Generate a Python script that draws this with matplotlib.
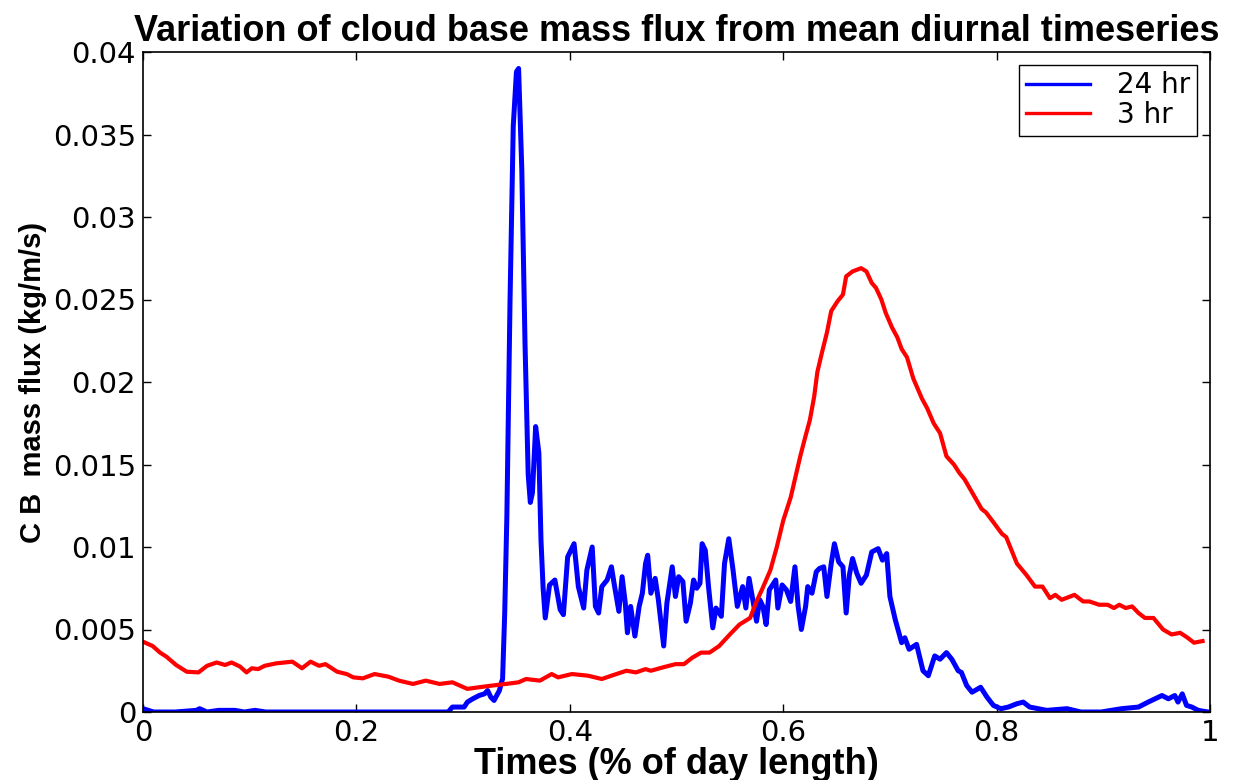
import matplotlib
matplotlib.use("Agg")
import matplotlib.pyplot as plt

# ---- data -------------------------------------------------------------
blue_x = [0.000, 0.005, 0.010, 0.030, 0.050, 0.053, 0.060, 0.071, 0.080, 0.086, 0.095, 0.105, 0.115,
          0.286, 0.290, 0.301, 0.304, 0.309, 0.315, 0.320, 0.323, 0.326, 0.329, 0.334, 0.336,
          0.337, 0.339, 0.341, 0.344, 0.347, 0.350, 0.352, 0.355, 0.358, 0.361, 0.363, 0.365,
          0.368, 0.371, 0.373, 0.375, 0.377, 0.381, 0.386, 0.391, 0.394, 0.398, 0.401, 0.404,
          0.408, 0.413, 0.416, 0.421, 0.424, 0.427, 0.430, 0.435, 0.439, 0.442, 0.446, 0.449,
          0.452, 0.454, 0.457, 0.461, 0.465, 0.468, 0.471, 0.473, 0.476, 0.480, 0.483, 0.488,
          0.491, 0.496, 0.499, 0.502, 0.506, 0.509, 0.513, 0.516, 0.519, 0.522, 0.524, 0.527,
          0.530, 0.534, 0.537, 0.542, 0.545, 0.549, 0.553, 0.557, 0.562, 0.565, 0.568, 0.572,
          0.575, 0.578, 0.581, 0.584, 0.587, 0.593, 0.595, 0.599, 0.603, 0.607, 0.611, 0.614,
          0.617, 0.621, 0.623, 0.627, 0.631, 0.634, 0.638, 0.641, 0.645, 0.648, 0.652, 0.656,
          0.659, 0.662, 0.665, 0.669, 0.673, 0.678, 0.683, 0.689, 0.693, 0.697, 0.700, 0.705,
          0.708, 0.711, 0.714, 0.718, 0.725, 0.731, 0.736, 0.742, 0.747, 0.753, 0.758, 0.764,
          0.767, 0.772, 0.777, 0.785, 0.791, 0.797, 0.804, 0.811, 0.819, 0.825, 0.831, 0.847,
          0.866, 0.879, 0.898, 0.917, 0.933, 0.942, 0.955, 0.961, 0.967, 0.970, 0.974, 0.978,
          0.983, 0.989, 0.998, 1.000]
blue_y = [0.0002, 0.0001, 0.0000, 0.0000, 0.0001, 0.0002, 0.0000, 0.0001, 0.0001, 0.0001, 0.0000, 0.0001, 0.0000,
          0.0000, 0.0003, 0.0003, 0.0006, 0.0008, 0.0010, 0.0011, 0.0013, 0.0009, 0.0007, 0.0013, 0.0018,
          0.0020, 0.0060, 0.0118, 0.0250, 0.0355, 0.0388, 0.0390, 0.0329, 0.0224, 0.0144, 0.0127, 0.0133,
          0.0173, 0.0157, 0.0104, 0.0075, 0.0057, 0.0077, 0.0080, 0.0062, 0.0059, 0.0094, 0.0098, 0.0102,
          0.0076, 0.0063, 0.0086, 0.0100, 0.0064, 0.0060, 0.0076, 0.0080, 0.0088, 0.0076, 0.0061, 0.0082,
          0.0066, 0.0048, 0.0064, 0.0046, 0.0064, 0.0072, 0.0090, 0.0095, 0.0072, 0.0081, 0.0068, 0.0040,
          0.0066, 0.0088, 0.0070, 0.0082, 0.0079, 0.0055, 0.0066, 0.0080, 0.0075, 0.0078, 0.0102, 0.0098,
          0.0076, 0.0051, 0.0063, 0.0058, 0.0090, 0.0105, 0.0086, 0.0064, 0.0076, 0.0063, 0.0081, 0.0066,
          0.0055, 0.0068, 0.0064, 0.0053, 0.0074, 0.0080, 0.0063, 0.0077, 0.0074, 0.0067, 0.0088, 0.0064,
          0.0050, 0.0064, 0.0076, 0.0072, 0.0085, 0.0087, 0.0088, 0.0070, 0.0090, 0.0102, 0.0091, 0.0088,
          0.0060, 0.0083, 0.0093, 0.0084, 0.0078, 0.0083, 0.0097, 0.0099, 0.0092, 0.0096, 0.0070, 0.0056,
          0.0049, 0.0042, 0.0045, 0.0038, 0.0041, 0.0025, 0.0022, 0.0034, 0.0032, 0.0036, 0.0032, 0.0025,
          0.0024, 0.0016, 0.0012, 0.0015, 0.0009, 0.0004, 0.0002, 0.0003, 0.0005, 0.0006, 0.0003, 0.0001,
          0.0002, 0.0000, 0.0000, 0.0002, 0.0003, 0.0006, 0.0010, 0.0008, 0.0010, 0.0006, 0.0011, 0.0004,
          0.0003, 0.0001, 0.0000, 0.0000]

red_x = [0.000, 0.009, 0.016, 0.022, 0.031, 0.041, 0.052, 0.060, 0.069, 0.077, 0.083, 0.091, 0.097,
         0.102, 0.108, 0.114, 0.125, 0.140, 0.149, 0.157, 0.165, 0.171, 0.182, 0.191, 0.197, 0.206,
         0.217, 0.230, 0.240, 0.253, 0.265, 0.278, 0.290, 0.304, 0.315, 0.327, 0.340, 0.352, 0.359,
         0.372, 0.383, 0.389, 0.402, 0.417, 0.430, 0.439, 0.453, 0.462, 0.471, 0.476, 0.487, 0.499,
         0.507, 0.515, 0.523, 0.531, 0.540, 0.550, 0.559, 0.569, 0.575, 0.580, 0.588, 0.594, 0.600,
         0.607, 0.611, 0.616, 0.620, 0.625, 0.629, 0.632, 0.636, 0.641, 0.645, 0.651, 0.656, 0.659,
         0.665, 0.673, 0.678, 0.683, 0.687, 0.692, 0.696, 0.702, 0.707, 0.711, 0.716, 0.722, 0.730,
         0.735, 0.741, 0.747, 0.753, 0.760, 0.765, 0.770, 0.778, 0.786, 0.790, 0.797, 0.805, 0.809,
         0.819, 0.828, 0.836, 0.843, 0.850, 0.855, 0.861, 0.873, 0.881, 0.887, 0.896, 0.904, 0.910,
         0.915, 0.921, 0.927, 0.933, 0.939, 0.947, 0.956, 0.964, 0.972, 0.979, 0.985, 0.993]
red_y = [0.00426, 0.0040, 0.0036, 0.00335, 0.00285, 0.00244, 0.0024, 0.0028, 0.0030, 0.00285, 0.0030, 0.00275, 0.0024,
         0.00265, 0.0026, 0.0028, 0.00295, 0.00305, 0.00265, 0.00305, 0.0028, 0.0029, 0.00244, 0.0023, 0.0021, 0.00204,
         0.0023, 0.00214, 0.0019, 0.0017, 0.0019, 0.0017, 0.0018, 0.0014, 0.0015, 0.0016, 0.0017, 0.0018, 0.0020,
         0.0019, 0.0023, 0.0021, 0.0023, 0.0022, 0.0020, 0.0022, 0.0025, 0.0024, 0.0026, 0.0025, 0.0027, 0.0029,
         0.0029, 0.0033, 0.0036, 0.0036, 0.0040, 0.0047, 0.0053, 0.0057, 0.0067, 0.0074, 0.0086, 0.0100, 0.0116,
         0.0130, 0.0141, 0.0155, 0.0165, 0.0177, 0.0191, 0.0206, 0.0217, 0.0230, 0.0243, 0.0249, 0.0253, 0.0264,
         0.0267, 0.0269, 0.0267, 0.0260, 0.0257, 0.0250, 0.0242, 0.0233, 0.0227, 0.0220, 0.0215, 0.0202, 0.0190,
         0.0184, 0.0175, 0.0169, 0.0155, 0.0150, 0.0145, 0.0141, 0.0132, 0.0123, 0.0121, 0.0115, 0.0108, 0.0106,
         0.0090, 0.0083, 0.0076, 0.0076, 0.0069, 0.0071, 0.0068, 0.0071, 0.0067, 0.0067, 0.0065, 0.0065, 0.0063,
         0.0065, 0.0063, 0.0064, 0.0060, 0.0057, 0.0057, 0.0050, 0.0047, 0.0048, 0.0045, 0.0042, 0.0043]

series_labels = ["24 hr", "3 hr"]
x_ticks = [0, 0.2, 0.4, 0.6, 0.8, 1]
x_tick_labels = ["0", "0.2", "0.4", "0.6", "0.8", "1"]
y_ticks = [0, 0.005, 0.01, 0.015, 0.02, 0.025, 0.03, 0.035, 0.04]
y_tick_labels = ["0", "0.005", "0.01", "0.015", "0.02", "0.025", "0.03", "0.035", "0.04"]

title = "Variation of cloud base mass flux from mean diurnal timeseries"
xlabel = "Times (% of day length)"
ylabel = "C B  mass flux (kg/m/s)"

# ---- figure -----------------------------------------------------------
fig = plt.figure(figsize=(12.58, 7.80), dpi=100)
ax = fig.add_axes([143 / 1258, 68 / 780, (1210 - 143) / 1258, (712 - 52) / 780])

ax.plot(blue_x, blue_y, color="#0000ff", lw=3.6, label=series_labels[0], solid_joinstyle="round")
ax.plot(red_x, red_y, color="#ff0000", lw=3.0, label=series_labels[1], solid_joinstyle="round")

ax.set_xlim(0, 1)
ax.set_ylim(0, 0.04)
ax.set_xticks(x_ticks)
ax.set_xticklabels(x_tick_labels)
ax.set_yticks(y_ticks)
ax.set_yticklabels(y_tick_labels)
ax.tick_params(direction="in", length=6, width=1, top=True, right=True,
               labelsize=21, pad=5)
for lab in ax.get_xticklabels() + ax.get_yticklabels():
    lab.set_family("DejaVu Sans")
for s in ax.spines.values():
    s.set_linewidth(1.2)

ax.set_title(title, fontsize=26, fontweight="bold", family="Liberation Sans", pad=8)
ax.set_xlabel(xlabel, fontsize=26, fontweight="bold", family="Liberation Sans", labelpad=0)
ax.set_ylabel(ylabel, fontsize=21, fontweight="bold", family="Liberation Sans", labelpad=4)

leg = ax.legend(loc="upper right", fancybox=False, shadow=False, framealpha=1,
                edgecolor="black", handlelength=2.3,
                borderaxespad=0.45, borderpad=0.25, labelspacing=0.05, handletextpad=1.0,
                prop={"family": "DejaVu Sans", "size": 20})
leg.get_frame().set_linewidth(1.0)
for h in leg.get_lines():
    h.set_linewidth(2.4)

fig.savefig("out.png", dpi=100)
